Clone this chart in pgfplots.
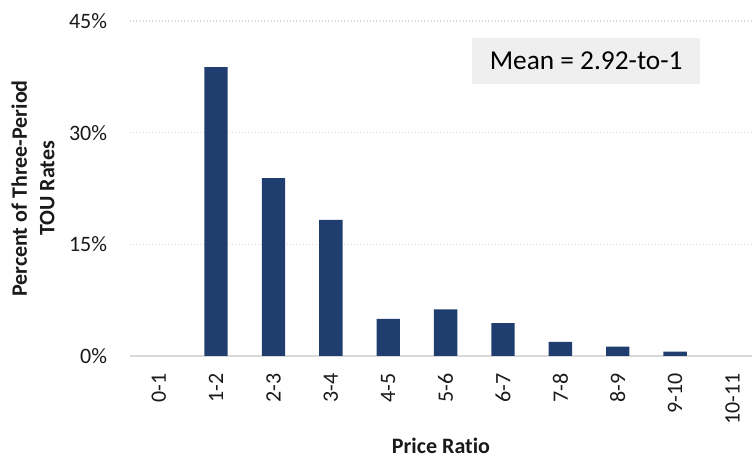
\documentclass[border=0pt]{standalone}
\usepackage{pgfplots}
\pgfplotsset{compat=1.18}
\usepackage{fontspec}
\setmainfont{Carlito}[Ligatures=NoCommon]
\definecolor{barc}{HTML}{1F3D6E}
\definecolor{gridc}{HTML}{D9D9D9}
\definecolor{txt}{HTML}{1A1A1A}
\definecolor{meanfill}{HTML}{EFEFEF}
\begin{document}
\begin{tikzpicture}
\begin{axis}[name=ax, scale only axis, width=466.5pt, height=251.25pt,
  xmin=-0.5, xmax=10.34, ymin=0, ymax=45,
  ytick={0,15,30,45},
  yticklabel={\pgfmathprintnumber{\tick}\%},
  /pgf/number format/assume math mode=true,
  xtick={0,1,2,3,4,5,6,7,8,9,10},
  xticklabels={0-1,1-2,2-3,3-4,4-5,5-6,6-7,7-8,8-9,9-10,10-11},
  x tick label style={yshift=-12.75pt, rotate=90, anchor=east, inner sep=0pt, font=\fontsize{16.5}{16}\selectfont, text=txt},
  y tick label style={anchor=east, inner sep=0pt, xshift=-17pt, font=\fontsize{16.5}{16}\selectfont, text=txt},
  major tick length=0pt,
  axis lines*=left,
  x axis line style={draw=gridc, line width=0.8pt, -},
  y axis line style={draw=none},
  ymajorgrids, grid style={dotted, draw=gridc, line width=0.8pt},
  ylabel={Percent of Three-Period\\TOU Rates},
  ylabel style={at={(axis description cs:-0.156,0.5)}, anchor=center, align=center, font=\bfseries\fontsize{16.5}{20.5}\selectfont, text=txt},
  xlabel={Price Ratio},
  xlabel style={at={(axis description cs:0.5,0)}, anchor=center, yshift=-67.5pt, font=\bfseries\fontsize{16.5}{18}\selectfont, text=txt},
  ybar, bar width=17.5pt, bar shift=0pt,
]
\addplot[fill=barc, draw=none] coordinates {(1,38.8) (2,23.9) (3,18.3) (4,5.0) (5,6.25) (6,4.4) (7,1.9) (8,1.25) (9,0.6)};
\node[fill=meanfill, minimum width=171pt, minimum height=34.5pt, inner sep=0pt, font=\fontsize{20.5}{20}\selectfont, text=black] at (axis cs:7.45,39.6) {Mean = 2.92-to-1};
\end{axis}
\pgfresetboundingbox
\path[use as bounding box] ([xshift=-97.5pt, yshift=-78pt]ax.south west) rectangle ([yshift=15.75pt]ax.north east);
\end{tikzpicture}
\end{document}
